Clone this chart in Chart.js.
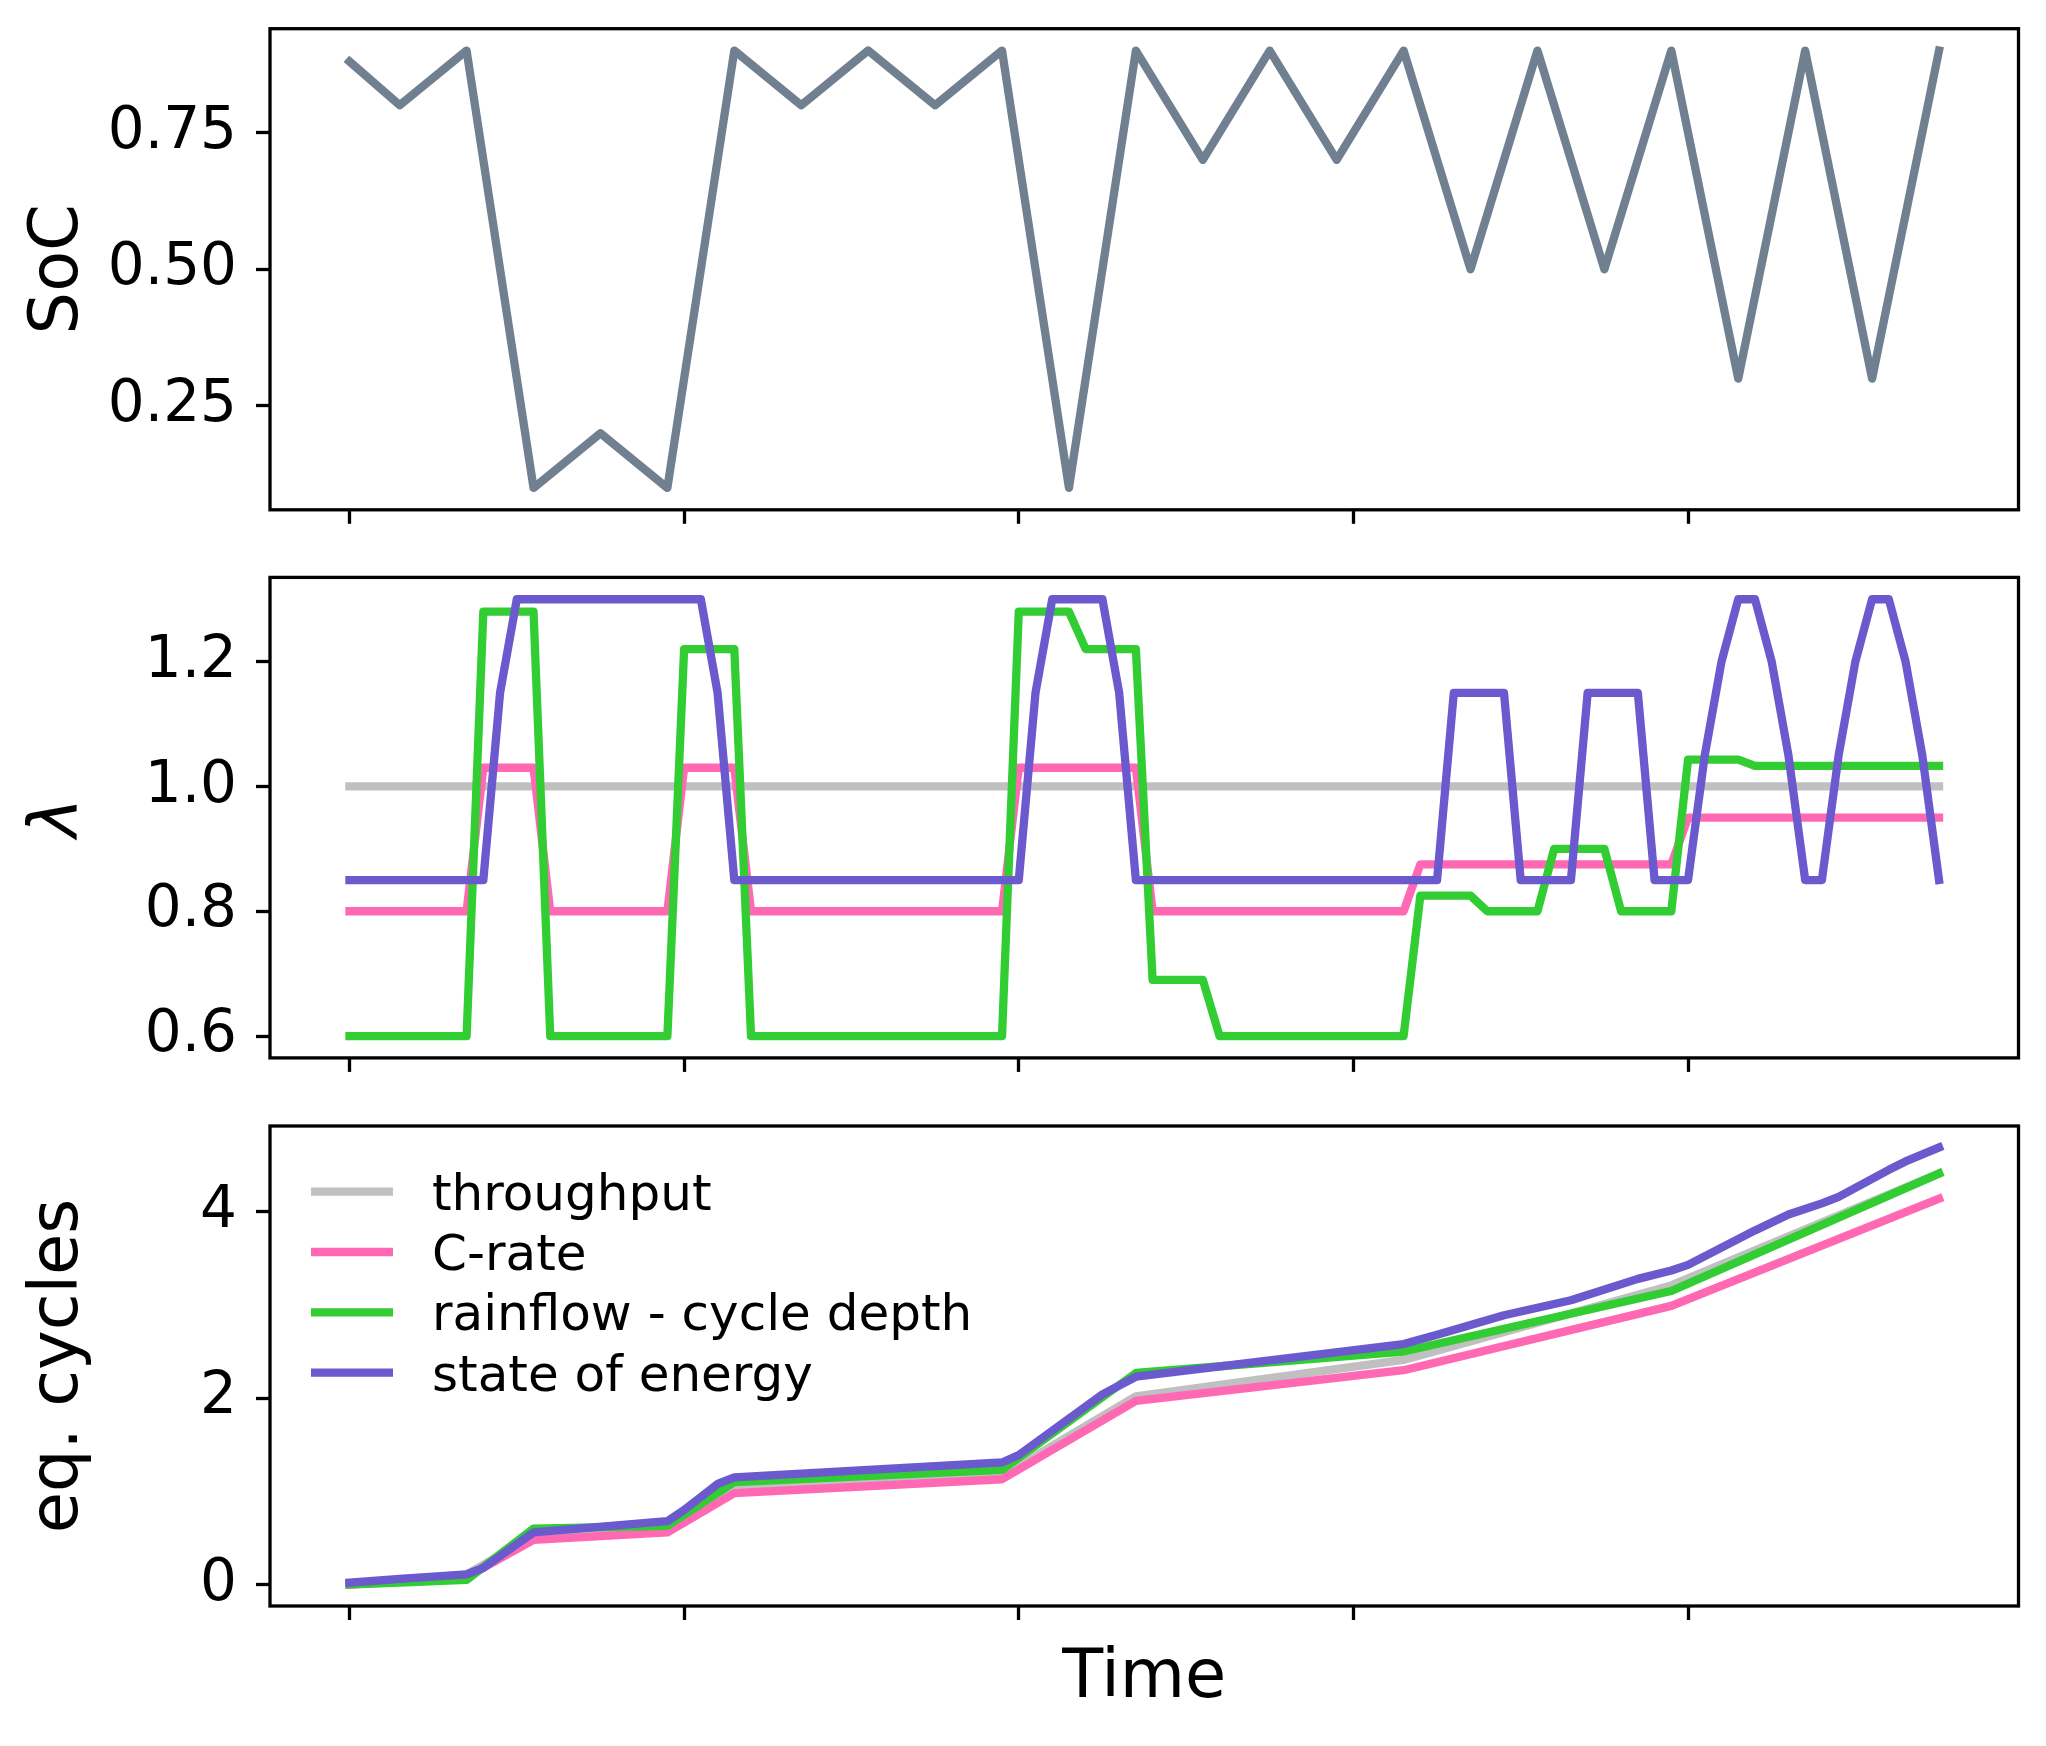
<!DOCTYPE html>
<html>
<head>
<meta charset="utf-8">
<script src="https://cdn.jsdelivr.net/npm/chart.js@4.4.1/dist/chart.umd.min.js"></script>
<style>
  body { margin: 0; background: #fff; }
  #wrap { position: relative; width: 2046px; height: 1746px; background: #fff; }
  canvas { position: absolute; left: 0; }
</style>
</head>
<body>
<div id="wrap">
  <canvas id="soc" width="2046" height="560" style="top:0px"></canvas>
  <canvas id="lambda" width="2046" height="560" style="top:560px"></canvas>
  <canvas id="cycles" width="2046" height="626" style="top:1120px"></canvas>
</div>
<script>
// ---- data ----
const xTicks = [0, 5, 10, 15, 20];

// SoC (top panel), hours
const socTimes = [0, 0.75, 1.75, 2.75, 3.75, 4.75, 5.75, 6.75, 7.75, 8.75, 9.75, 10.75,
    11.75, 12.75, 13.75, 14.75, 15.75, 16.75, 17.75, 18.75, 19.75, 20.75, 21.75, 22.75, 23.75];
const socValues = [0.88, 0.8, 0.9, 0.1, 0.2, 0.1, 0.9, 0.8, 0.9, 0.8, 0.9, 0.1,
    0.9, 0.7, 0.9, 0.7, 0.9, 0.5, 0.9, 0.5, 0.9, 0.3, 0.9, 0.3, 0.9];
const socTicks = [0.25, 0.5, 0.75];
const socTickLabels = ['0.25', '0.50', '0.75'];

// lambda (middle panel), quarter hours
const quarterHours = [
    0, 0.25, 0.5, 0.75, 1, 1.25, 1.5, 1.75,
    2, 2.25, 2.5, 2.75, 3, 3.25, 3.5, 3.75,
    4, 4.25, 4.5, 4.75, 5, 5.25, 5.5, 5.75,
    6, 6.25, 6.5, 6.75, 7, 7.25, 7.5, 7.75,
    8, 8.25, 8.5, 8.75, 9, 9.25, 9.5, 9.75,
    10, 10.25, 10.5, 10.75, 11, 11.25, 11.5, 11.75,
    12, 12.25, 12.5, 12.75, 13, 13.25, 13.5, 13.75,
    14, 14.25, 14.5, 14.75, 15, 15.25, 15.5, 15.75,
    16, 16.25, 16.5, 16.75, 17, 17.25, 17.5, 17.75,
    18, 18.25, 18.5, 18.75, 19, 19.25, 19.5, 19.75,
    20, 20.25, 20.5, 20.75, 21, 21.25, 21.5, 21.75,
    22, 22.25, 22.5, 22.75, 23, 23.25, 23.5, 23.75
];
const lambdaThroughput = [
    1, 1, 1, 1, 1, 1, 1, 1,
    1, 1, 1, 1, 1, 1, 1, 1,
    1, 1, 1, 1, 1, 1, 1, 1,
    1, 1, 1, 1, 1, 1, 1, 1,
    1, 1, 1, 1, 1, 1, 1, 1,
    1, 1, 1, 1, 1, 1, 1, 1,
    1, 1, 1, 1, 1, 1, 1, 1,
    1, 1, 1, 1, 1, 1, 1, 1,
    1, 1, 1, 1, 1, 1, 1, 1,
    1, 1, 1, 1, 1, 1, 1, 1,
    1, 1, 1, 1, 1, 1, 1, 1,
    1, 1, 1, 1, 1, 1, 1, 1
];
const lambdaCrate = [
    0.8, 0.8, 0.8, 0.8, 0.8, 0.8, 0.8, 0.8,
    1.03, 1.03, 1.03, 1.03, 0.8, 0.8, 0.8, 0.8,
    0.8, 0.8, 0.8, 0.8, 1.03, 1.03, 1.03, 1.03,
    0.8, 0.8, 0.8, 0.8, 0.8, 0.8, 0.8, 0.8,
    0.8, 0.8, 0.8, 0.8, 0.8, 0.8, 0.8, 0.8,
    1.03, 1.03, 1.03, 1.03, 1.03, 1.03, 1.03, 1.03,
    0.8, 0.8, 0.8, 0.8, 0.8, 0.8, 0.8, 0.8,
    0.8, 0.8, 0.8, 0.8, 0.8, 0.8, 0.8, 0.8,
    0.875, 0.875, 0.875, 0.875, 0.875, 0.875, 0.875, 0.875,
    0.875, 0.875, 0.875, 0.875, 0.875, 0.875, 0.875, 0.875,
    0.95, 0.95, 0.95, 0.95, 0.95, 0.95, 0.95, 0.95,
    0.95, 0.95, 0.95, 0.95, 0.95, 0.95, 0.95, 0.95
];
const lambdaRainflow = [
    0.6, 0.6, 0.6, 0.6, 0.6, 0.6, 0.6, 0.6,
    1.28, 1.28, 1.28, 1.28, 0.6, 0.6, 0.6, 0.6,
    0.6, 0.6, 0.6, 0.6, 1.22, 1.22, 1.22, 1.22,
    0.6, 0.6, 0.6, 0.6, 0.6, 0.6, 0.6, 0.6,
    0.6, 0.6, 0.6, 0.6, 0.6, 0.6, 0.6, 0.6,
    1.28, 1.28, 1.28, 1.28, 1.22, 1.22, 1.22, 1.22,
    0.69, 0.69, 0.69, 0.69, 0.6, 0.6, 0.6, 0.6,
    0.6, 0.6, 0.6, 0.6, 0.6, 0.6, 0.6, 0.6,
    0.825, 0.825, 0.825, 0.825, 0.8, 0.8, 0.8, 0.8,
    0.9, 0.9, 0.9, 0.9, 0.8, 0.8, 0.8, 0.8,
    1.043, 1.043, 1.043, 1.043, 1.033, 1.033, 1.033, 1.033,
    1.033, 1.033, 1.033, 1.033, 1.033, 1.033, 1.033, 1.033
];
const lambdaSoe = [
    0.85, 0.85, 0.85, 0.85, 0.85, 0.85, 0.85, 0.85,
    0.85, 1.15, 1.3, 1.3, 1.3, 1.3, 1.3, 1.3,
    1.3, 1.3, 1.3, 1.3, 1.3, 1.3, 1.15, 0.85,
    0.85, 0.85, 0.85, 0.85, 0.85, 0.85, 0.85, 0.85,
    0.85, 0.85, 0.85, 0.85, 0.85, 0.85, 0.85, 0.85,
    0.85, 1.15, 1.3, 1.3, 1.3, 1.3, 1.15, 0.85,
    0.85, 0.85, 0.85, 0.85, 0.85, 0.85, 0.85, 0.85,
    0.85, 0.85, 0.85, 0.85, 0.85, 0.85, 0.85, 0.85,
    0.85, 0.85, 1.15, 1.15, 1.15, 1.15, 0.85, 0.85,
    0.85, 0.85, 1.15, 1.15, 1.15, 1.15, 0.85, 0.85,
    0.85, 1.05, 1.2, 1.3, 1.3, 1.2, 1.05, 0.85,
    0.85, 1.05, 1.2, 1.3, 1.3, 1.2, 1.05, 0.85
];
const lambdaTicks = [0.6, 0.8, 1.0, 1.2];
const lambdaTickLabels = ['0.6', '0.8', '1.0', '1.2'];

// eq. cycles (bottom panel), hours at the corners of each line
const tpTimes = [0, 0.75, 1.75, 2.75, 4.75, 5.75, 9.75, 11.75, 15.75, 19.75, 23.75];
const tpValues = [0.0, 0.04, 0.11, 0.52, 0.60, 1.03, 1.17, 2.02, 2.41, 3.21, 4.41];
const crTimes = [0, 0.75, 1.75, 2.75, 4.75, 5.75, 9.75, 11.75, 15.75, 19.75, 23.75];
const crValues = [0.0, 0.03, 0.08, 0.48, 0.56, 0.98, 1.13, 1.97, 2.30, 2.99, 4.14];
const rfTimes = [0, 0.75, 1.75, 2.75, 4.75, 5.75, 9.75, 11.75, 15.75, 19.75, 23.75];
const rfValues = [0.0, 0.02, 0.05, 0.60, 0.63, 1.10, 1.23, 2.27, 2.50, 3.15, 4.41];
const soeTimes = [0, 0.75, 1.75, 2.0, 2.75, 4.75, 5.0, 5.25, 5.5, 5.75, 9.75, 10.0, 11.25, 11.75,
    15.75, 16.25, 17.25, 18.25, 19.25, 19.75, 20.0, 21.0, 21.5, 22.0, 22.25, 23.0, 23.25, 23.75];
const soeValues = [0.02, 0.06, 0.11, 0.18, 0.56, 0.68, 0.80, 0.94, 1.08, 1.15, 1.31, 1.39, 2.04, 2.23,
    2.58, 2.68, 2.89, 3.05, 3.28, 3.37, 3.43, 3.80, 3.97, 4.09, 4.16, 4.45, 4.54, 4.69];
const cycleTicks = [0, 2, 4];
const cycleTickLabels = ['0', '2', '4'];

const seriesNames = ['throughput', 'C-rate', 'rainflow - cycle depth', 'state of energy'];
const seriesColors = ['#c0c0c0', '#ff69b4', '#32cd32', '#6a5acd'];

// ---- chart setup ----
Chart.defaults.font.family = '"DejaVu Sans", sans-serif';
Chart.defaults.color = '#000';

const LINE_W = 8.3;
const AXIS_W = 3.3;

function pairs(xs, ys) {
    return xs.map((x, i) => ({ x: x, y: ys[i] }));
}

// box around each plot area, like matplotlib spines
const framePlugin = {
    id: 'frame',
    afterDraw(chart) {
        const { ctx, chartArea: a } = chart;
        ctx.save();
        ctx.strokeStyle = '#000';
        ctx.lineWidth = AXIS_W;
        ctx.strokeRect(a.left, a.top, a.right - a.left, a.bottom - a.top);
        ctx.restore();
    }
};

function xScale(height, title) {
    return {
        type: 'linear',
        min: -1.1875,
        max: 24.9375,
        afterBuildTicks: s => { s.ticks = xTicks.map(v => ({ value: v })); },
        afterFit: s => { s.height = height; s.paddingLeft = 0; s.paddingRight = 0; },
        ticks: { display: false },
        grid: { drawOnChartArea: false, drawTicks: true, tickLength: 14, tickWidth: AXIS_W, tickColor: '#000' },
        border: { display: false },
        title: title
            ? { display: true, text: title, color: '#000', font: { size: 67 }, padding: { top: 0, bottom: 26 } }
            : { display: false }
    };
}

function yScale(min, max, ticks, labels, title, style) {
    return {
        type: 'linear',
        min: min,
        max: max,
        afterBuildTicks: s => { s.ticks = ticks.map(v => ({ value: v })); },
        // fixed width, and no extra room asked for the end labels
        afterFit: s => { s.width = 270; s.paddingTop = 0; s.paddingBottom = 0; },
        ticks: { padding: 19, color: '#000', font: { size: 58 }, callback: (v, i) => labels[i] },
        grid: { drawOnChartArea: false, drawTicks: true, tickLength: 14, tickWidth: AXIS_W, tickColor: '#000' },
        border: { display: false },
        title: { display: true, text: title, color: '#000', font: { size: 67, style: style || 'normal' }, padding: { top: 19, bottom: 0 } }
    };
}

function baseOptions(padTop) {
    return {
        responsive: false,
        animation: false,
        devicePixelRatio: 1,
        layout: { padding: { top: padTop, right: 27.5, left: 0, bottom: 0 } },
        elements: { point: { radius: 0 } },
        plugins: { legend: { display: false }, tooltip: { enabled: false } }
    };
}

function lineSet(label, data, color, order) {
    return {
        label: label,
        data: data,
        borderColor: color,
        backgroundColor: color,
        borderWidth: LINE_W,
        borderJoinStyle: 'round',
        borderCapStyle: 'square',
        tension: 0,
        pointRadius: 0,
        fill: false,
        order: order
    };
}

// top: SoC
const opt1 = baseOptions(28.7);
opt1.scales = { x: xScale(50.2), y: yScale(0.06, 0.94, socTicks, socTickLabels, 'SoC') };
new Chart(document.getElementById('soc'), {
    type: 'line',
    data: { datasets: [lineSet('SoC', pairs(socTimes, socValues), '#708090', 1)] },
    options: opt1,
    plugins: [framePlugin]
});

// middle: lambda
const opt2 = baseOptions(17.4);
opt2.scales = { x: xScale(62.1), y: yScale(0.565, 1.335, lambdaTicks, lambdaTickLabels, 'λ', 'italic') };
new Chart(document.getElementById('lambda'), {
    type: 'line',
    data: {
        labels: quarterHours,
        datasets: [
            lineSet(seriesNames[0], lambdaThroughput, seriesColors[0], 4),
            lineSet(seriesNames[1], lambdaCrate, seriesColors[1], 3),
            lineSet(seriesNames[2], lambdaRainflow, seriesColors[2], 2),
            lineSet(seriesNames[3], lambdaSoe, seriesColors[3], 1)
        ]
    },
    options: opt2,
    plugins: [framePlugin]
});

// legend drawn inside the plot area, top left, no frame
const innerLegend = {
    id: 'innerLegend',
    afterDraw(chart) {
        const { ctx, chartArea: a } = chart;
        ctx.save();
        ctx.font = '50px "DejaVu Sans"';
        ctx.textBaseline = 'alphabetic';
        ctx.textAlign = 'left';
        chart.data.datasets.forEach((ds, i) => {
            const y = a.top + 65.7 + i * 60.3;
            ctx.strokeStyle = ds.borderColor;
            ctx.lineWidth = LINE_W;
            ctx.lineCap = 'butt';
            ctx.beginPath();
            ctx.moveTo(a.left + 41, y);
            ctx.lineTo(a.left + 123, y);
            ctx.stroke();
            ctx.fillStyle = '#000';
            ctx.fillText(ds.label, a.left + 162, y + 18);
        });
        ctx.restore();
    }
};

// bottom: eq. cycles
const opt3 = baseOptions(6);
opt3.scales = { x: xScale(140, 'Time'), y: yScale(-0.23, 4.92, cycleTicks, cycleTickLabels, 'eq. cycles') };
new Chart(document.getElementById('cycles'), {
    type: 'line',
    data: {
        datasets: [
            lineSet(seriesNames[0], pairs(tpTimes, tpValues), seriesColors[0], 4),
            lineSet(seriesNames[1], pairs(crTimes, crValues), seriesColors[1], 3),
            lineSet(seriesNames[2], pairs(rfTimes, rfValues), seriesColors[2], 2),
            lineSet(seriesNames[3], pairs(soeTimes, soeValues), seriesColors[3], 1)
        ]
    },
    options: opt3,
    plugins: [framePlugin, innerLegend]
});
</script>
</body>
</html>
